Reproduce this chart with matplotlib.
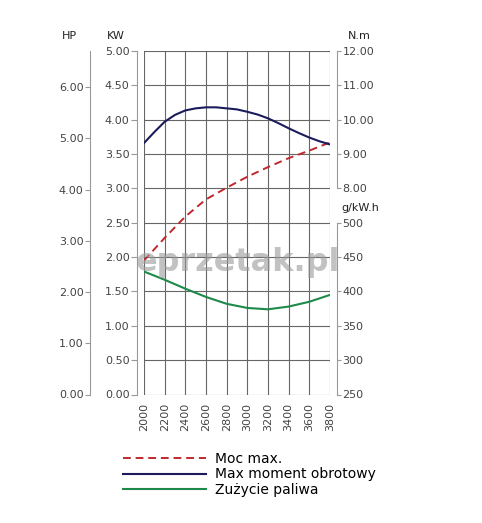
import numpy as np
import matplotlib
matplotlib.use('Agg')
import matplotlib.pyplot as plt
from matplotlib.ticker import FormatStrFormatter

rpm = [2000, 2200, 2400, 2600, 2800, 3000, 3200, 3400, 3600, 3800]
power_kw = [1.95, 2.28, 2.59, 2.84, 3.01, 3.17, 3.31, 3.44, 3.55, 3.67]
fuel_g = [429, 417, 404, 392, 382, 376, 374, 378, 385, 395]

rpm_trq = [2000, 2100, 2200, 2300, 2400, 2500, 2600, 2700, 2800, 2900,
           3000, 3100, 3200, 3300, 3400, 3500, 3600, 3700, 3800]
torque_nm = [9.32, 9.64, 9.94, 10.14, 10.27, 10.33, 10.36, 10.36, 10.33, 10.30,
             10.23, 10.15, 10.04, 9.90, 9.75, 9.61, 9.48, 9.37, 9.28]

kw_ticks = [0, 0.5, 1, 1.5, 2, 2.5, 3, 3.5, 4, 4.5, 5]
hp_ticks = [0, 1, 2, 3, 4, 5, 6]
nm_ticks = [8, 9, 10, 11, 12]
g_ticks = [250, 300, 350, 400, 450, 500]

W, H = 482, 523
px = 72 / 100.0  # points per pixel

fig = plt.figure(figsize=(W / 100, H / 100), dpi=100)
ax = fig.add_axes([144 / W, 1 - 394.5 / H, 186 / W, 343.5 / H])

tick_col = '#444444'
spine_col = '#999999'
grid_col = '#666666'

ax.set_xlim(2000, 3800)
ax.set_ylim(0, 5)
ax.set_xticks(rpm)
ax.set_yticks(kw_ticks)
ax.grid(True, color=grid_col, lw=0.8)
ax.yaxis.set_major_formatter(FormatStrFormatter('%.2f'))
for s in ['top', 'bottom', 'right']:
    ax.spines[s].set_visible(False)
ax.spines['left'].set_position(('outward', 7 * px))
ax.spines['left'].set_color(spine_col)
ax.tick_params(axis='y', length=6 * px, color=spine_col, labelsize=8, labelcolor=tick_col, pad=1)
ax.tick_params(axis='x', length=0, labelsize=8, labelcolor=tick_col, labelrotation=90, pad=6)

l_pow, = ax.plot(rpm, power_kw, color='#c0282d', lw=1.4, ls=(0, (4, 2.5)), label='Moc max.')

# HP axis (far left)
ax_hp = ax.twinx()
ax_hp.set_ylim(0, 5 / 0.7457)
ax_hp.set_yticks(hp_ticks)
ax_hp.yaxis.set_major_formatter(FormatStrFormatter('%.2f'))
ax_hp.yaxis.tick_left()
for s in ['top', 'bottom', 'right']:
    ax_hp.spines[s].set_visible(False)
ax_hp.spines['left'].set_position(('outward', 54 * px))
ax_hp.spines['left'].set_color(spine_col)
ax_hp.tick_params(axis='y', length=5 * px, color=spine_col, labelsize=8, labelcolor=tick_col, pad=1)

# N.m axis (right, upper)
ax_nm = ax.twinx()
ax_nm.set_ylim(2, 12)
ax_nm.set_yticks(nm_ticks)
ax_nm.yaxis.set_major_formatter(FormatStrFormatter('%.2f'))
for s in ['top', 'bottom', 'left']:
    ax_nm.spines[s].set_visible(False)
ax_nm.spines['right'].set_position(('outward', 7 * px))
ax_nm.spines['right'].set_bounds(8, 12)
ax_nm.spines['right'].set_color(spine_col)
ax_nm.tick_params(axis='y', length=4 * px, color=spine_col, labelsize=8, labelcolor=tick_col, pad=1)
l_trq, = ax_nm.plot(rpm_trq, torque_nm, color='#1c1c5c', lw=1.5, label='Max moment obrotowy')

# g/kW.h axis (right, lower)
ax_g = ax.twinx()
ax_g.set_ylim(250, 750)
ax_g.set_yticks(g_ticks)
for s in ['top', 'bottom', 'left']:
    ax_g.spines[s].set_visible(False)
ax_g.spines['right'].set_position(('outward', 7 * px))
ax_g.spines['right'].set_bounds(250, 500)
ax_g.spines['right'].set_color(spine_col)
ax_g.tick_params(axis='y', length=4 * px, color=spine_col, labelsize=8, labelcolor=tick_col, pad=1)
l_fuel, = ax_g.plot(rpm, fuel_g, color='#1e8a4a', lw=1.5, label='Zużycie paliwa')

# axis unit labels
fig.text(69 / W, 1 - 36 / H, 'HP', ha='center', va='center', fontsize=8, color='#222222')
fig.text(116 / W, 1 - 36 / H, 'KW', ha='center', va='center', fontsize=8, color='#222222')
fig.text(359 / W, 1 - 36 / H, 'N.m', ha='center', va='center', fontsize=8, color='#222222')
fig.text(360 / W, 1 - 208 / H, 'g/kW.h', ha='center', va='center', fontsize=8, color='#222222')

# watermark
fig.text(238 / W, 1 - 262 / H, 'eprzetak.pl', ha='center', va='center', fontsize=23,
         fontweight='bold', color='#9a9a9a', alpha=0.6, zorder=10)

fig.legend(handles=[l_pow, l_trq, l_fuel], loc='upper left', bbox_to_anchor=(123 / W, 1 - 452 / H),
           frameon=False, fontsize=10, handlelength=6.0, handletextpad=0.6, labelspacing=0.1,
           borderaxespad=0, borderpad=0)

fig.savefig('out.png', dpi=100)
